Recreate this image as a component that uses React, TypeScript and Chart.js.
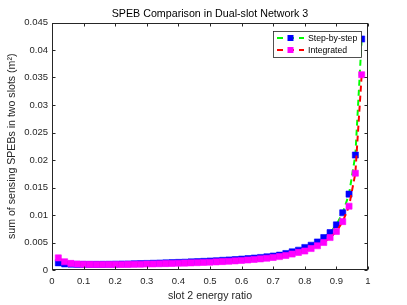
import React, { useEffect, useRef } from "react";
import { Chart, registerables } from "chart.js";

Chart.register(...registerables);

const energyRatio = [
  0.02, 0.04, 0.06, 0.08, 0.1, 0.12, 0.14, 0.16, 0.18, 0.2,
  0.22, 0.24, 0.26, 0.28, 0.3, 0.32, 0.34, 0.36, 0.38, 0.4,
  0.42, 0.44, 0.46, 0.48, 0.5, 0.52, 0.54, 0.56, 0.58, 0.6,
  0.62, 0.64, 0.66, 0.68, 0.7, 0.72, 0.74, 0.76, 0.78, 0.8,
  0.82, 0.84, 0.86, 0.88, 0.9, 0.92, 0.94, 0.96, 0.98,
];

const stepByStep = [
  0.0013, 0.0011, 0.00106, 0.00103, 0.00102, 0.00102, 0.00102, 0.00103, 0.00104, 0.00106,
  0.00108, 0.0011, 0.00113, 0.00116, 0.00119, 0.00122, 0.00126, 0.0013, 0.00134, 0.00138,
  0.00142, 0.00147, 0.00152, 0.00157, 0.00163, 0.00169, 0.00176, 0.00183, 0.0019, 0.00198,
  0.00207, 0.00217, 0.00228, 0.0024, 0.00254, 0.0027, 0.003, 0.0033, 0.0036, 0.0041,
  0.0045, 0.0051, 0.0059, 0.0068, 0.0082, 0.0104, 0.0138, 0.0209, 0.042,
];

const integrated = [
  0.0022, 0.0015, 0.0012, 0.00108, 0.00104, 0.00102, 0.00101, 0.001, 0.001, 0.001,
  0.00101, 0.00102, 0.00104, 0.00106, 0.00108, 0.0011, 0.00113, 0.00116, 0.00119, 0.00122,
  0.00125, 0.00129, 0.00133, 0.00137, 0.00142, 0.00147, 0.00153, 0.00159, 0.00166, 0.00174,
  0.00182, 0.00192, 0.00202, 0.00214, 0.00228, 0.00244, 0.00264, 0.0029, 0.0032, 0.00345,
  0.0039, 0.0044, 0.005, 0.0059, 0.007, 0.0088, 0.0116, 0.0176, 0.0355,
];

const xTicks = [0, 0.1, 0.2, 0.3, 0.4, 0.5, 0.6, 0.7, 0.8, 0.9, 1];
const yTicks = [0, 0.005, 0.01, 0.015, 0.02, 0.025, 0.03, 0.035, 0.04, 0.045];

const titleText = "SPEB Comparison in Dual-slot Network 3";
const xTitle = "slot 2 energy ratio";
const yTitle = "sum of sensing SPEBs in two slots (m²)";

const FONT = "'Liberation Sans', Arial, Helvetica, sans-serif";
const AXIS_COLOR = "#262626";

const fmt = (v: number) => String(Number(v.toFixed(4)));

const boxPlugin = {
  id: "matlabBox",
  afterDraw(chart: any) {
    const { ctx, chartArea: a, scales } = chart;
    ctx.save();
    ctx.strokeStyle = AXIS_COLOR;
    ctx.lineWidth = 1;
    ctx.setLineDash([]);
    const L = Math.round(a.left) + 0.5;
    const R = Math.round(a.right) - 0.5;
    const T = Math.round(a.top) + 0.5;
    const B = Math.round(a.bottom) - 0.5;
    ctx.strokeRect(L, T, R - L, B - T);
    const tl = 3;
    ctx.beginPath();
    for (const v of xTicks) {
      const px = Math.round(scales.x.getPixelForValue(v)) + 0.5;
      ctx.moveTo(px, B);
      ctx.lineTo(px, B - tl);
      ctx.moveTo(px, T);
      ctx.lineTo(px, T + tl);
    }
    for (const v of yTicks) {
      const py = Math.round(scales.y.getPixelForValue(v)) + 0.5;
      ctx.moveTo(L, py);
      ctx.lineTo(L + tl, py);
      ctx.moveTo(R, py);
      ctx.lineTo(R - tl, py);
    }
    ctx.stroke();

    // title
    ctx.fillStyle = "#000000";
    ctx.font = `10.7px ${FONT}`;
    ctx.textAlign = "center";
    ctx.textBaseline = "middle";
    ctx.fillText(titleText, (a.left + a.right) / 2, 14);

    // legend
    const lx = 273.5, ly = 31.5, lw = 88, lh = 26;
    ctx.fillStyle = "#ffffff";
    ctx.fillRect(lx, ly, lw, lh);
    ctx.strokeStyle = "#262626";
    ctx.lineWidth = 0.8;
    ctx.strokeRect(lx, ly, lw, lh);
    const rows = [38, 50];
    chart.data.datasets.forEach((ds: any, i: number) => {
      const y = rows[i];
      ctx.save();
      ctx.strokeStyle = ds.borderColor;
      ctx.lineWidth = 2;
      ctx.setLineDash([6, 5]);
      ctx.beginPath();
      ctx.moveTo(277, y);
      ctx.lineTo(304, y);
      ctx.stroke();
      ctx.restore();
      ctx.fillStyle = ds.pointBackgroundColor;
      ctx.fillRect(287.5, y - 3, 6, 6);
      ctx.fillStyle = "#000000";
      ctx.font = `8.7px ${FONT}`;
      ctx.textBaseline = "middle";
      ctx.textAlign = "left";
      ctx.fillText(ds.label, 308, y + 0.5);
    });
    ctx.restore();
  },
};

export default function App() {
  const canvasRef = useRef<HTMLCanvasElement | null>(null);

  useEffect(() => {
    const canvas = canvasRef.current;
    if (!canvas) return;
    const toPts = (ys: number[]) => energyRatio.map((x, i) => ({ x, y: ys[i] }));
    const chart = new Chart(canvas, {
      type: "line",
      data: {
        datasets: [
          {
            label: "Step-by-step",
            data: toPts(stepByStep),
            borderColor: "#00ff00",
            borderWidth: 2,
            borderDash: [6, 4],
            pointStyle: "rect",
            pointRadius: 4.3,
            pointBackgroundColor: "#0000ff",
            pointBorderColor: "#0000ff",
            pointBorderWidth: 0.6,
            tension: 0,
            order: 1,
          },
          {
            label: "Integrated",
            data: toPts(integrated),
            borderColor: "#ff0000",
            borderWidth: 2,
            borderDash: [6, 4],
            pointStyle: "rect",
            pointRadius: 4.3,
            pointBackgroundColor: "#ff00ff",
            pointBorderColor: "#ff00ff",
            pointBorderWidth: 0.6,
            tension: 0,
            order: 0,
          },
        ],
      },
      options: {
        responsive: false,
        animation: false,
        events: [],
        layout: { padding: { top: 22.5, right: 39, left: 0, bottom: 0 } },
        plugins: {
          legend: { display: false },
          tooltip: { enabled: false },
          title: { display: false },
        },
        scales: {
          x: {
            type: "linear",
            min: 0,
            max: 1,
            afterBuildTicks: (axis: any) => {
              axis.ticks = xTicks.map((v) => ({ value: v }));
            },
            afterFit: (axis: any) => {
              axis.height = 35;
            },
            grid: { display: false, drawTicks: false, tickLength: 0 },
            border: { display: false },
            ticks: {
              color: AXIS_COLOR,
              font: { family: FONT, size: 9.5 },
              padding: 6,
              maxRotation: 0,
              autoSkip: false,
              callback: (v: any) => fmt(Number(v)),
            },
            title: {
              display: true,
              text: xTitle,
              color: AXIS_COLOR,
              font: { family: FONT, size: 10.6 },
              padding: { top: 0, bottom: 3 },
            },
          },
          y: {
            type: "linear",
            min: 0,
            max: 0.045,
            afterBuildTicks: (axis: any) => {
              axis.ticks = yTicks.map((v) => ({ value: v }));
            },
            afterFit: (axis: any) => {
              axis.width = 52;
            },
            grid: { display: false, drawTicks: false, tickLength: 0 },
            border: { display: false },
            ticks: {
              color: AXIS_COLOR,
              font: { family: FONT, size: 9.5 },
              padding: 4,
              autoSkip: false,
              callback: (v: any) => fmt(Number(v)),
            },
            title: {
              display: true,
              text: yTitle,
              color: AXIS_COLOR,
              font: { family: FONT, size: 10.6 },
              padding: { top: 6, bottom: 0 },
            },
          },
        },
      },
      plugins: [boxPlugin],
    } as any);
    return () => chart.destroy();
  }, []);

  return (
    <div style={{ position: "absolute", left: 0, top: 0, width: 407, height: 305, background: "#fff" }}>
      <canvas ref={canvasRef} width={407} height={305} style={{ display: "block", width: 407, height: 305 }} />
    </div>
  );
}
